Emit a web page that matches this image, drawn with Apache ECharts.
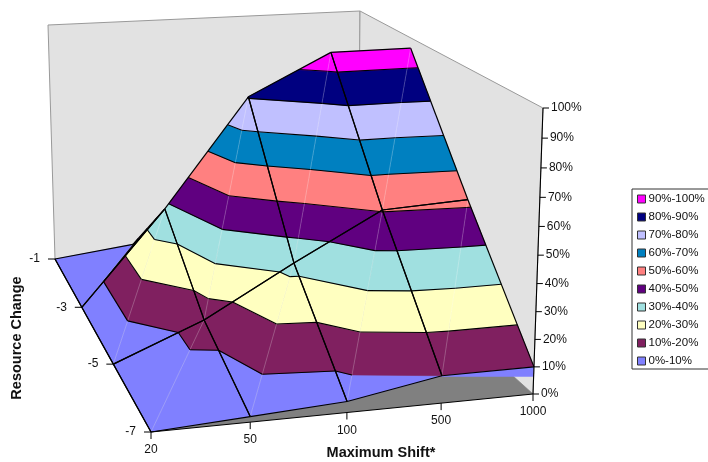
<!DOCTYPE html>
<html>
<head>
<meta charset="utf-8">
<style>
html, body { margin: 0; padding: 0; background: #fff; }
#chart { width: 708px; height: 462px; }
</style>
<script src="https://cdn.jsdelivr.net/npm/echarts@6/dist/echarts.min.js"></script>
</head>
<body>
<div id="chart"></div>
<script>
var shifts = ['20', '50', '100', '500', '1000'];
var resources = ['-7', '-5', '-3', '-1'];
var zTicks = [0, 10, 20, 30, 40, 50, 60, 70, 80, 90, 100];
// surface heights in %, one row per resource change, one value per shift
var rowM7 = [0, 2, 4, 10, 10];
var rowM5 = [0, 14, 33, 50.5, 52];
var rowM3 = [0, 38, 80.5, 96, 96];
var rowM1 = [0, 4, 5, 5, 5];
var bandNames = ['0%-10%', '10%-20%', '20%-30%', '30%-40%', '40%-50%', '50%-60%', '60%-70%', '70%-80%', '80%-90%', '90%-100%'];
var bandColors = ['#8080ff', '#802060', '#ffffc0', '#a0e0e0', '#600080', '#ff8080', '#0080c0', '#c0c0ff', '#000080', '#ff00ff'];

var rows = [rowM7, rowM5, rowM3, rowM1];

// corners of the 3d box on the page
var floorBox = [[151, 432], [533, 394], [358, 236], [55, 259]];
var topBox = [[145, 135], [543, 108], [360, 11], [48, 25]];

function quadMap(q) {
    var x0 = q[0][0], y0 = q[0][1], x1 = q[1][0], y1 = q[1][1];
    var x2 = q[2][0], y2 = q[2][1], x3 = q[3][0], y3 = q[3][1];
    var dx1 = x1 - x2, dx2 = x3 - x2, dx3 = x0 - x1 + x2 - x3;
    var dy1 = y1 - y2, dy2 = y3 - y2, dy3 = y0 - y1 + y2 - y3;
    var den = dx1 * dy2 - dy1 * dx2;
    var g = (dx3 * dy2 - dy3 * dx2) / den;
    var h = (dx1 * dy3 - dy1 * dx3) / den;
    var a = x1 - x0 + g * x1, b = x3 - x0 + h * x3;
    var d = y1 - y0 + g * y1, e = y3 - y0 + h * y3;
    return function (u, v) {
        var w = g * u + h * v + 1;
        return [(a * u + b * v + x0) / w, (d * u + e * v + y0) / w];
    };
}
var floorMap = quadMap(floorBox);
var topMap = quadMap(topBox);

// i = shift index, j = resource index, z = height in %
function project(i, j, z) {
    var u = i / (shifts.length - 1), v = j / (resources.length - 1);
    var f = floorMap(u, v), t = topMap(u, v);
    var w = z / 100;
    var s = w / (w + (1 - w) * 1.06);
    return [f[0] + (t[0] - f[0]) * s, f[1] + (t[1] - f[1]) * s];
}

function node(i, j) {
    return { i: i, j: j, z: rows[j][i] };
}

// each cell is split along its (i,j)-(i+1,j+1) diagonal
var triangles = [];
for (var j0 = 0; j0 < rows.length - 1; j0++) {
    for (var i0 = 0; i0 < shifts.length - 1; i0++) {
        triangles.push([node(i0, j0), node(i0 + 1, j0), node(i0 + 1, j0 + 1)]);
        triangles.push([node(i0, j0), node(i0 + 1, j0 + 1), node(i0, j0 + 1)]);
    }
}

function facesViewer(tri) {
    var a = project(tri[0].i, tri[0].j, tri[0].z);
    var b = project(tri[1].i, tri[1].j, tri[1].z);
    var c = project(tri[2].i, tri[2].j, tri[2].z);
    return (b[0] - a[0]) * (c[1] - a[1]) - (b[1] - a[1]) * (c[0] - a[0]) < 0;
}

function cut(p, q, level) {
    var t = (level - p.z) / (q.z - p.z);
    return { i: p.i + (q.i - p.i) * t, j: p.j + (q.j - p.j) * t, z: level };
}

function clipAbove(poly, level, sign) {
    var out = [];
    for (var k = 0; k < poly.length; k++) {
        var p = poly[k], q = poly[(k + 1) % poly.length];
        var pIn = (p.z - level) * sign >= 0, qIn = (q.z - level) * sign >= 0;
        if (pIn) out.push(p);
        if (pIn !== qIn) out.push(cut(p, q, level));
    }
    return out;
}

function toPage(api, p) {
    return api.coord(project(p.i, p.j, p.z));
}

function line(a, b, color, width, dash) {
    return {
        type: 'line',
        shape: { x1: a[0], y1: a[1], x2: b[0], y2: b[1] },
        style: { stroke: color, lineWidth: width, lineDash: dash || null }
    };
}

function label(text, x, y, align, bold, rotation) {
    return {
        type: 'text',
        x: x, y: y,
        rotation: rotation || 0,
        style: {
            text: text, x: 0, y: 0,
            align: align, verticalAlign: 'middle',
            fill: '#111',
            font: (bold ? 'bold 14.5px' : '12px') + ' "Liberation Sans", Arial, sans-serif'
        }
    };
}

function renderBack(params, api) {
    var n = shifts.length - 1, m = resources.length - 1;
    function flat(i, j, z) { return api.coord(project(i, j, z)); }
    function wall(pts) {
        return { type: 'polygon', shape: { points: pts }, style: { fill: '#e2e2e2', stroke: '#999', lineWidth: 1 } };
    }
    return {
        type: 'group',
        children: [
            wall([flat(0, m, 0), flat(n, m, 0), flat(n, m, 100), flat(0, m, 100)]),
            wall([flat(n, m, 0), flat(n, 0, 0), flat(n, 0, 100), flat(n, m, 100)]),
            {
                type: 'polygon',
                shape: { points: [flat(0, 0, 0), flat(n, 0, 0), flat(n, m, 0), flat(0, m, 0)] },
                style: { fill: '#808080' }
            }
        ]
    };
}

function bandRenderer(b) {
    return function (params, api) {
        var tri = triangles[api.value(0)];
        if (!facesViewer(tri)) return null;
        var poly = clipAbove(tri, b * 10, 1);
        if (b < bandNames.length - 1) poly = clipAbove(poly, (b + 1) * 10, -1);
        if (poly.length < 3) return null;
        return {
            type: 'polygon',
            shape: { points: poly.map(function (p) { return toPage(api, p); }) },
            style: { fill: bandColors[b], stroke: bandColors[b], lineWidth: 0.5 }
        };
    };
}

function renderOverlay(params, api) {
    var kids = [];
    var n = shifts.length - 1, m = resources.length - 1;

    // blue strip left under the front edge at the right hand side
    var s0 = api.coord(project(3, 0, rows[0][3]));
    var s1 = api.coord(project(4, 0, rows[0][4]));
    kids.push({
        type: 'polygon',
        shape: { points: [s0, s1, [s1[0], s0[1] + 1], [s0[0], s0[1] + 1]] },
        style: { fill: bandColors[0] }
    });

    triangles.forEach(function (tri) {
        if (!facesViewer(tri)) return;
        // seam along the diagonal
        var diag = tri[0].i !== tri[1].i && tri[0].j !== tri[1].j ? [tri[0], tri[1]] :
            (tri[0].i !== tri[2].i && tri[0].j !== tri[2].j ? [tri[0], tri[2]] : [tri[1], tri[2]]);
        kids.push(line(toPage(api, diag[0]), toPage(api, diag[1]), 'rgba(255,255,255,0.17)', 0.7));
        // band boundaries
        for (var lv = 10; lv < 100; lv += 10) {
            var hits = [];
            for (var k = 0; k < 3; k++) {
                var p = tri[k], q = tri[(k + 1) % 3];
                if ((p.z - lv) * (q.z - lv) < 0) hits.push(cut(p, q, lv));
            }
            if (hits.length === 2) kids.push(line(toPage(api, hits[0]), toPage(api, hits[1]), '#000', 1.1));
        }
    });
    // grid lines of the visible cells
    triangles.forEach(function (tri) {
        if (!facesViewer(tri)) return;
        for (var k = 0; k < 3; k++) {
            var p = tri[k], q = tri[(k + 1) % 3];
            if (p.i === q.i || p.j === q.j) kids.push(line(toPage(api, p), toPage(api, q), '#000', 1.2));
        }
    });

    // floor edge axes
    kids.push(line(api.coord(project(0, 0, 0)), api.coord(project(0, m, 0)), '#000', 1.1));
    kids.push(line(api.coord(project(0, 0, 0)), api.coord(project(n, 0, 0)), '#000', 1.1));
    // height axis
    kids.push(line(api.coord(project(n, 0, 0)), api.coord(project(n, 0, 100)), '#000', 1.1));

    zTicks.forEach(function (v) {
        var c = api.coord(project(n, 0, v));
        kids.push(line(c, [c[0] + 6, c[1]], '#000', 1));
        kids.push(label(v + '%', c[0] + 8, c[1], 'left'));
    });
    shifts.forEach(function (name, i) {
        var c = api.coord(project(i, 0, 0));
        kids.push(line(c, [c[0], c[1] + 7], '#000', 1));
        kids.push(label(name, c[0], c[1] + 18, 'center'));
    });
    resources.forEach(function (name, j) {
        var c = api.coord(project(0, j, 0));
        kids.push(line(c, [c[0] - 7, c[1]], '#000', 1));
        kids.push(label(name, c[0] - 15, c[1], 'right'));
    });

    kids.push(label('Maximum Shift*', 381, 453, 'center', true));
    kids.push(label('Resource Change', 17, 338, 'center', true, Math.PI / 2));
    return { type: 'group', children: kids };
}

var triIndex = triangles.map(function (t, k) { return [k, 0]; });
var series = [{
    type: 'custom', name: 'back', coordinateSystem: 'cartesian2d', silent: true,
    renderItem: renderBack, data: [[0, 0]], z: 1
}];
bandNames.forEach(function (name, b) {
    series.push({
        type: 'custom', name: name, coordinateSystem: 'cartesian2d', silent: true,
        itemStyle: { color: bandColors[b] },
        renderItem: bandRenderer(b), data: triIndex, z: 2 + b
    });
});
series.push({
    type: 'custom', name: 'overlay', coordinateSystem: 'cartesian2d', silent: true,
    renderItem: renderOverlay, data: [[0, 0]], z: 20
});

var myChart = echarts.init(document.getElementById('chart'));
myChart.setOption({
    animation: false,
    grid: { left: 0, right: 0, top: 0, bottom: 0 },
    xAxis: { type: 'value', min: 0, max: 708, show: false },
    yAxis: { type: 'value', min: 0, max: 462, inverse: true, show: false },
    legend: {
        orient: 'vertical',
        left: 632,
        top: 189,
        data: bandNames.slice().reverse(),
        selectedMode: false,
        icon: 'rect',
        itemWidth: 8,
        itemHeight: 8,
        itemGap: 6,
        padding: [4, 20, 2, 5],
        borderColor: '#333',
        borderWidth: 1,
        backgroundColor: '#fff',
        itemStyle: { borderColor: '#333', borderWidth: 1 },
        textStyle: { fontFamily: '"Liberation Sans", Arial, sans-serif', fontSize: 11.5, color: '#111', padding: [0, 0, 0, -2] }
    },
    series: series
});
</script>
</body>
</html>
